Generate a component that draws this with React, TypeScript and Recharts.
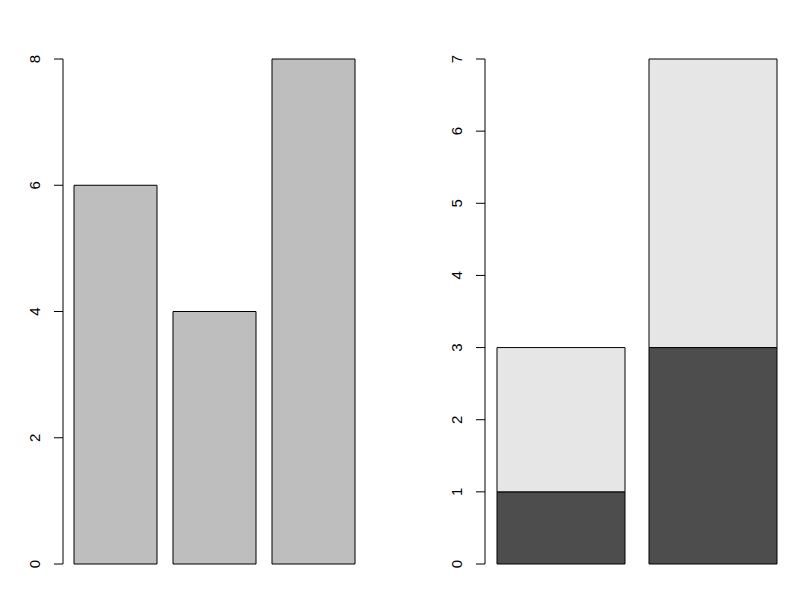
import { BarChart, Bar, XAxis, YAxis } from "recharts";

const leftCategories = ["a", "b", "c"];
const leftValues = [6, 4, 8];
const leftTicks = [0, 2, 4, 6, 8];

const rightCategories = ["x", "y"];
const rightLower = [1, 3];
const rightUpper = [2, 4];
const rightTicks = [0, 1, 2, 3, 4, 5, 6, 7];

const leftData = leftCategories.map((name, i) => ({ name, value: leftValues[i] }));
const rightData = rightCategories.map((name, i) => ({
  name,
  lower: rightLower[i],
  upper: rightUpper[i],
}));

// rotated tick labels like R's default las=0 on the y axis
// eslint-disable-next-line @typescript-eslint/no-explicit-any
const RotatedTick = (props: any) => {
  const { x, y, payload } = props;
  const bx = x - 14;
  return (
    <text
      transform={`translate(${bx}, ${y}) rotate(-90)`}
      textAnchor="middle"
      fontFamily="Liberation Sans, Arial, sans-serif"
      fontSize={15}
      fill="#000"
    >
      {payload.value}
    </text>
  );
};

export default function App() {
  return (
    <div style={{ position: "absolute", left: 0, top: 0, width: 809, height: 595, background: "#fff" }}>
      <div style={{ position: "absolute", left: 0, top: 0 }}>
        <BarChart
          width={380}
          height={595}
          data={leftData}
          margin={{ top: 59, bottom: 31, left: 23, right: 14 }}
          barCategoryGap={8}
        >
          <XAxis dataKey="name" hide padding={{ left: 3, right: 3 }} />
          <YAxis
            width={40}
            domain={[0, 8]}
            ticks={leftTicks}
            interval={0}
            axisLine={{ stroke: "#000" }}
            tickLine={{ stroke: "#000" }}
            tickSize={9}
            tickMargin={0}
            tick={<RotatedTick />}
          />
          <Bar dataKey="value" fill="#BEBEBE" stroke="#000" strokeWidth={1} isAnimationActive={false} />
        </BarChart>
      </div>
      <div style={{ position: "absolute", left: 400, top: 0 }}>
        <BarChart
          width={409}
          height={595}
          data={rightData}
          margin={{ top: 59, bottom: 31, left: 45, right: 20 }}
          barCategoryGap={12}
        >
          <XAxis dataKey="name" hide />
          <YAxis
            width={40}
            domain={[0, 7]}
            ticks={rightTicks}
            interval={0}
            axisLine={{ stroke: "#000" }}
            tickLine={{ stroke: "#000" }}
            tickSize={9}
            tickMargin={0}
            tick={<RotatedTick />}
          />
          <Bar dataKey="lower" stackId="s" fill="#4D4D4D" stroke="#000" strokeWidth={1} isAnimationActive={false} />
          <Bar dataKey="upper" stackId="s" fill="#E6E6E6" stroke="#000" strokeWidth={1} isAnimationActive={false} />
        </BarChart>
      </div>
    </div>
  );
}
